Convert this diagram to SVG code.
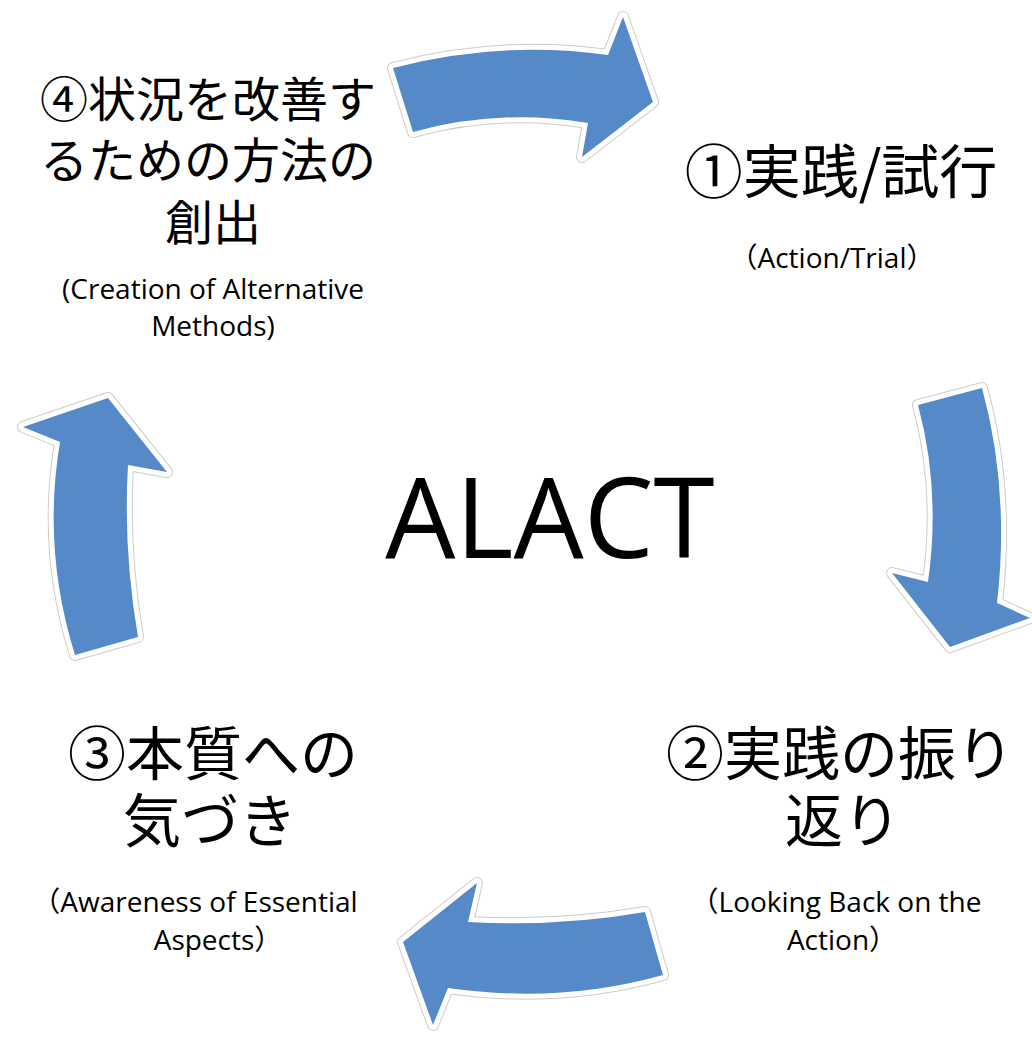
<svg xmlns="http://www.w3.org/2000/svg" xmlns:xlink="http://www.w3.org/1999/xlink" width="1032" height="1038" viewBox="0 0 1032 1038">
<style>
.halo{fill:none;stroke:#cdcdcd;stroke-width:12;stroke-linejoin:round}
.rim{fill:none;stroke:#ffffff;stroke-width:10;stroke-linejoin:round}
.body{fill:#5589c7}
.jp{font-family:"Noto Sans CJK JP","Noto Sans",sans-serif;fill:#000}
.en{font-family:"Open Sans","Noto Sans CJK JP",sans-serif;fill:#000;font-size:28px;text-anchor:middle}
.big{font-size:58px;text-anchor:middle}
.mid{font-size:48px;text-anchor:middle}
</style>
<defs>
<path id="a1" d="M393,68 Q500,40 608,55 L623,17 L653,102 L582,157 L588,123 Q500,108 413,132 Z"/>
<path id="a2" d="M918,405 L982,388 Q1010,490 997,603 L1030,618 L950,647 L892,573 L928,582 Q941,490 918,405 Z"/>
<path id="a3" d="M645,912 L663,975 Q560,1004 448,988 L433,1025 L403,942 L477,883 L468,922 Q560,927 645,912 Z"/>
<path id="a4" d="M75,655 L138,637 Q123,550 128,465 L167,472 L108,398 L23,427 L60,442 Q42,550 75,655 Z"/>
</defs>
<rect width="1032" height="1038" fill="#ffffff"/>
<g id="connectors">
<use xlink:href="#a1" class="halo"/><use xlink:href="#a1" class="rim"/><use xlink:href="#a1" class="body"/>
<use xlink:href="#a2" class="halo"/><use xlink:href="#a2" class="rim"/><use xlink:href="#a2" class="body"/>
<use xlink:href="#a3" class="halo"/><use xlink:href="#a3" class="rim"/><use xlink:href="#a3" class="body"/>
<use xlink:href="#a4" class="halo"/><use xlink:href="#a4" class="rim"/><use xlink:href="#a4" class="body"/>
</g>
<g id="center">
<text x="550" y="558" font-family="Open Sans, sans-serif" font-size="111" text-anchor="middle" fill="#000">ALACT</text>
</g>
<g id="node1">
<text class="jp big" x="841" y="193">①実践/試行</text>
<text class="en" x="832" y="268">（Action/Trial）</text>
</g>
<g id="node2">
<text class="jp big" x="840" y="775">②実践の振り</text>
<text class="jp big" x="843" y="842">返り</text>
<text class="en" x="836" y="912">（Looking Back on the</text>
<text class="en" x="842" y="950">Action）</text>
</g>
<g id="node3">
<text class="jp big" x="213" y="775">③本質への</text>
<text class="jp big" x="210" y="842">気づき</text>
<text class="en" x="195" y="912">（Awareness of Essential</text>
<text class="en" x="218" y="950">Aspects）</text>
</g>
<g id="node4">
<text class="jp mid" x="208" y="117">④状況を改善す</text>
<text class="jp mid" x="208" y="178">るための方法の</text>
<text class="jp mid" x="213" y="240">創出</text>
<text class="en" x="213" y="299">(Creation of Alternative</text>
<text class="en" x="213" y="336">Methods)</text>
</g>
</svg>
